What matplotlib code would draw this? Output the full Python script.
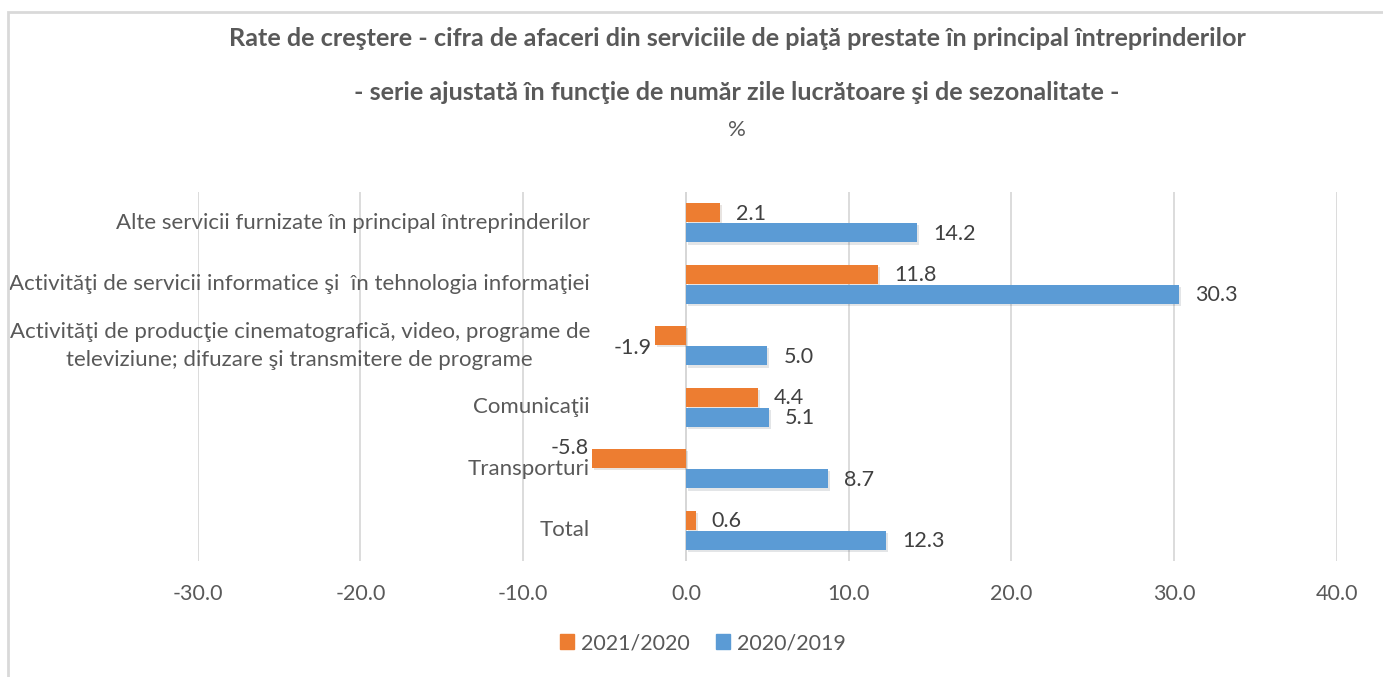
import matplotlib
matplotlib.use("Agg")
import matplotlib.pyplot as plt
import matplotlib.patheffects as pe
from matplotlib.patches import Patch, Rectangle
import numpy as np

categories = [
    "Total",
    "Transporturi",
    "Comunicaţii",
    "Activităţi de producţie cinematografică, video, programe de\nteleviziune; difuzare şi transmitere de programe",
    "Activităţi de servicii informatice şi  în tehnologia informaţiei",
    "Alte servicii furnizate în principal întreprinderilor",
]
s2021 = [0.6, -5.8, 4.4, -1.9, 11.8, 2.1]
s2020 = [12.3, 8.7, 5.1, 5.0, 30.3, 14.2]
series_names = ["2021/2020", "2020/2019"]
xticks = [-30, -20, -10, 0, 10, 20, 30, 40]

ORANGE = "#ED7D31"
BLUE = "#5B9BD5"
TXT = "#595959"
GRID = "#D9D9D9"
FONT = ["Lato", "DejaVu Sans"]
plt.rcParams["font.family"] = FONT

W, H = 1383, 677
fig = plt.figure(figsize=(W / 100, H / 100), dpi=100)

# chart border (partially cropped)
fig.patches.append(Rectangle((8 / W, -0.1), 1.2, 1 - 12 / H + 0.1, transform=fig.transFigure,
                             fill=False, edgecolor=GRID, lw=2))

ax = fig.add_axes([197.7 / W, 1 - 561 / H, (1337 - 197.7) / W, (561 - 192) / H])
y = np.arange(len(categories))
bh = 0.31
off = 0.165
shadow = [pe.SimplePatchShadow(offset=(1.5, -1.5), alpha=0.12), pe.Normal()]
b1 = ax.barh(y + off, s2021, height=bh, color=ORANGE, zorder=3)
b2 = ax.barh(y - off, s2020, height=bh, color=BLUE, zorder=3)
for b in list(b1) + list(b2):
    b.set_path_effects(shadow)

ax.set_xlim(-30, 40)
ax.set_ylim(-0.5, len(categories) - 0.5)
ax.set_xticks(xticks)
ax.set_xticklabels([f"{v:.1f}" for v in xticks], color=TXT, fontsize=15.5)
ax.tick_params(axis="x", length=0, pad=16.5)
ax.set_yticks([])
for s in ax.spines.values():
    s.set_visible(False)
ax.grid(axis="x", color=GRID, lw=1.3, zorder=0)
ax.axvline(0, color="#BFBFBF", lw=1.3, zorder=1)

# category labels inside plot area
for yi, c in zip(y, categories):
    ax.annotate(c, xy=(0, yi), xytext=(-96, 0), textcoords="offset pixels",
                ha="right", va="center", multialignment="center",
                color=TXT, fontsize=16, linespacing=1.5)

# data labels
def label(v, yy, neg_dy):
    if v >= 0:
        ax.annotate(f"{v:.1f}", xy=(v, yy), xytext=(16, -1), textcoords="offset pixels",
                    ha="left", va="center", color="#404040", fontsize=15.5)
    else:
        ax.annotate(f"{v:.1f}", xy=(v, yy), xytext=(-3, neg_dy), textcoords="offset pixels",
                    ha="right", va="center", color="#404040", fontsize=15.5)

neg_shift = {3: -12, 1: 11}
for i, v in enumerate(s2021):
    label(v, y[i] + off, neg_shift.get(i, 0))
for i, v in enumerate(s2020):
    label(v, y[i] - off, 0)

# titles
cx = 737 / W
fig.text(cx, 1 - 38 / H, "Rate de creştere - cifra de afaceri din serviciile de piaţă prestate în principal întreprinderilor",
         ha="center", va="center", fontsize=18.2, fontweight="bold", color=TXT)
fig.text(cx, 1 - 93 / H, "- serie ajustată în funcţie de număr zile lucrătoare şi de sezonalitate -",
         ha="center", va="center", fontsize=18.2, fontweight="bold", color=TXT)
fig.text(cx, 1 - 130 / H, "%", ha="center", va="center", fontsize=16, color=TXT)

handles = [Patch(color=ORANGE), Patch(color=BLUE)]
leg = fig.legend(handles, series_names, loc="center", bbox_to_anchor=(703 / W, 1 - 643 / H),
                 ncol=2, frameon=False, fontsize=15.5, handlelength=0.65, handleheight=0.65,
                 handletextpad=0.35, columnspacing=1.2)
for t in leg.get_texts():
    t.set_color(TXT)

fig.savefig("out.png", dpi=100)
